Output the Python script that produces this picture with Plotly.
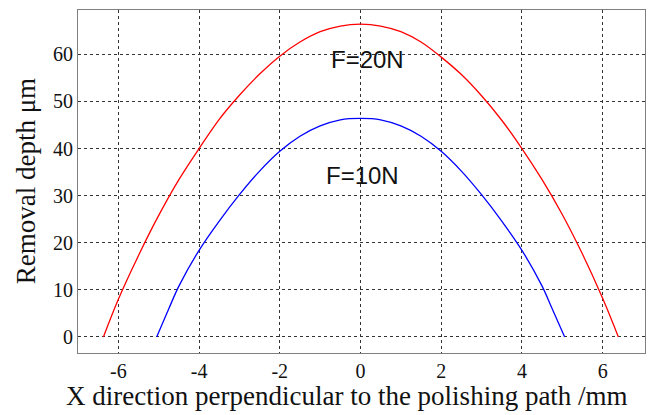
import plotly.graph_objects as go

x_20N = [-6.37, -6.0, -5.5, -5.0, -4.5, -4.0, -3.5, -3.0, -2.5, -2.0, -1.5, -1.0, -0.5, 0.0,
         0.5, 1.0, 1.5, 2.0, 2.5, 3.0, 3.5, 4.0, 4.5, 5.0, 5.5, 6.0, 6.39]
y_20N = [0.0, 8.0, 17.3, 25.8, 33.4, 40.0, 46.2, 51.3, 55.8, 59.6, 62.6, 64.8, 66.0, 66.4,
         66.0, 64.8, 62.6, 59.4, 55.7, 51.2, 46.0, 40.0, 33.4, 26.0, 17.6, 8.2, 0.0]

x_10N = [-5.05, -4.75, -4.5, -4.0, -3.5, -3.0, -2.5, -2.0, -1.5, -1.0, -0.5, 0.0,
         0.5, 1.0, 1.5, 2.0, 2.5, 3.0, 3.5, 4.0, 4.5, 4.75, 5.06]
y_10N = [0.0, 6.0, 10.8, 18.4, 24.6, 30.2, 35.2, 39.4, 42.6, 44.8, 46.1, 46.4,
         46.1, 44.8, 42.6, 39.4, 35.2, 30.2, 24.6, 18.4, 10.8, 6.0, 0.0]

x_ticks = [-6, -4, -2, 0, 2, 4, 6]
y_ticks = [0, 10, 20, 30, 40, 50, 60]
labels = ["F=20N", "F=10N"]
label_x = [0.17, 0.05]
label_y = [58.8, 34.3]

serif = "Liberation Serif, Times New Roman, serif"

fig = go.Figure()
fig.add_trace(go.Scatter(x=x_20N, y=y_20N, mode="lines", line=dict(color="#ff0000", width=1.3, shape="spline"),
                         showlegend=False))
fig.add_trace(go.Scatter(x=x_10N, y=y_10N, mode="lines", line=dict(color="#0000ff", width=1.3, shape="spline"),
                         showlegend=False))

for t, lx, ly in zip(labels, label_x, label_y):
    fig.add_annotation(x=lx, y=ly, text=t, showarrow=False, xref="x", yref="y",
                       font=dict(family="Liberation Sans, Arial, sans-serif", size=24, color="#111111"))

fig.add_annotation(x=-0.092, xref="paper", y=0.5, yref="paper", text="Removal depth μm",
                   textangle=-90, showarrow=False, xanchor="center", yanchor="middle",
                   font=dict(family=serif, size=27, color="#111111"))
fig.add_annotation(x=0.474, xref="paper", y=-0.124, yref="paper",
                   text="X direction perpendicular to the polishing path /mm",
                   showarrow=False, xanchor="center", yanchor="middle",
                   font=dict(family=serif, size=27, color="#111111"))

axis_common = dict(
    showline=True, linecolor="#7f7f7f", linewidth=1, mirror=True,
    showgrid=True, gridcolor="#333333", griddash="dot", gridwidth=1,
    zeroline=False, ticks="",
    tickfont=dict(family=serif, size=20, color="#111111"),
)

fig.update_layout(
    width=648, height=415,
    margin=dict(l=78, r=3, t=10, b=62),
    paper_bgcolor="white", plot_bgcolor="white",
    xaxis=dict(range=[-7, 7.05], tickvals=x_ticks, ticktext=[str(v) for v in x_ticks],
               **axis_common),
    yaxis=dict(range=[-3.4, 69.4], tickvals=y_ticks, ticktext=[str(v) for v in y_ticks],
               **axis_common),
)

fig.write_html("out.html")
